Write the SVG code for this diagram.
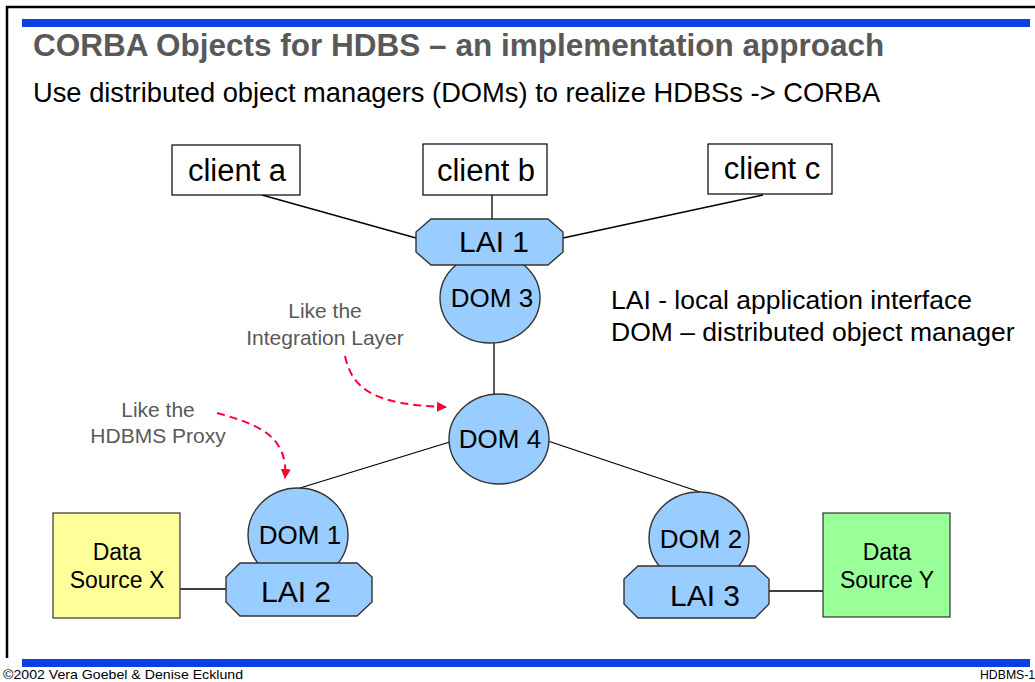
<svg xmlns="http://www.w3.org/2000/svg" width="1035" height="682" viewBox="0 0 1035 682">
  <style>
    text { font-family: "Liberation Sans", Arial, sans-serif; fill: #000; }
    .title { font-size: 31.5px; font-weight: bold; fill: #595959; }
    .sub { font-size: 27.3px; }
    .legend { font-size: 26.5px; }
    .client { font-size: 31px; text-anchor: middle; }
    .lai { font-size: 30px; text-anchor: middle; }
    .dom { font-size: 26px; text-anchor: middle; }
    .src { font-size: 23px; text-anchor: middle; }
    .note { font-size: 21px; text-anchor: middle; fill: #595959; }
    .foot { font-size: 13px; }
    .box { fill: #fff; stroke: #000; stroke-width: 1.2; }
    .blue { fill: #99CCFF; stroke: #333; stroke-width: 1.4; }
    .edge { stroke: #000; stroke-width: 1.3; fill: none; }
    .hint { stroke: #FF0033; stroke-width: 2; stroke-dasharray: 8 5; fill: none; }
    .bar { fill: #0A3FE6; }
  </style>
  <defs>
    <marker id="redArrow" viewBox="0 0 10 10" refX="9" refY="5" markerWidth="5" markerHeight="5" orient="auto" markerUnits="strokeWidth">
      <path d="M0,0 L10,5 L0,10 z" fill="#FF0033"/>
    </marker>
  </defs>

  <!-- slide frame -->
  <rect width="1035" height="682" fill="#fff"/>
  <line x1="6" y1="7" x2="1035" y2="7" stroke="#000" stroke-width="2.5"/>
  <line x1="7" y1="6" x2="7" y2="658" stroke="#000" stroke-width="2.5"/>
  <rect class="bar" x="22" y="19" width="1008" height="8"/>
  <rect class="bar" x="22" y="659" width="1008" height="8"/>

  <!-- headings -->
  <text class="title" x="33" y="56">CORBA Objects for HDBS – an implementation approach</text>
  <text class="sub" x="33" y="102">Use distributed object managers (DOMs) to realize HDBSs -&gt; CORBA</text>

  <!-- connectors -->
  <g id="connectors">
    <line class="edge" x1="262" y1="195" x2="416" y2="238"/>
    <line class="edge" x1="492" y1="195" x2="492" y2="219"/>
    <line class="edge" x1="763" y1="195" x2="563" y2="238"/>
    <line class="edge" x1="494" y1="343" x2="494" y2="398"/>
    <line class="edge" x1="453" y1="441" x2="300" y2="488"/>
    <line class="edge" x1="542" y1="439" x2="700" y2="492"/>
    <line class="edge" x1="180" y1="589" x2="226" y2="589"/>
    <line class="edge" x1="769" y1="591" x2="823" y2="591"/>
    <path class="hint" d="M345,356 C352,388 372,405 446,407" marker-end="url(#redArrow)"/>
    <path class="hint" d="M217,413 C252,423 289,433 285,478" marker-end="url(#redArrow)"/>
  </g>

  <!-- clients -->
  <g id="client-a">
    <rect class="box" x="172" y="145" width="128" height="50"/>
    <text class="client" x="237" y="181">client a</text>
  </g>
  <g id="client-b">
    <rect class="box" x="423" y="144" width="124" height="51"/>
    <text class="client" x="486" y="181">client b</text>
  </g>
  <g id="client-c">
    <rect class="box" x="708" y="144" width="124" height="50"/>
    <text class="client" x="772" y="179">client c</text>
  </g>

  <!-- DOM 3 under LAI 1 -->
  <g id="dom3">
    <ellipse class="blue" cx="490" cy="298" rx="50" ry="45"/>
    <text class="dom" x="492" y="307">DOM 3</text>
  </g>
  <g id="lai1">
    <polygon class="blue" points="431,219 548,219 563,232 563,252 548,265 431,265 416,252 416,232"/>
    <text class="lai" x="494" y="252">LAI 1</text>
  </g>

  <g id="dom4">
    <ellipse class="blue" cx="499" cy="439" rx="50" ry="45"/>
    <text class="dom" x="500" y="448">DOM 4</text>
  </g>

  <!-- left branch -->
  <g id="dom1">
    <ellipse class="blue" cx="298" cy="535" rx="50" ry="47"/>
    <text class="dom" x="300" y="544">DOM 1</text>
  </g>
  <g id="lai2">
    <polygon class="blue" points="240,563 357,563 372,577 372,602 357,616 240,616 226,602 226,577"/>
    <text class="lai" x="296" y="602">LAI 2</text>
  </g>
  <g id="source-x">
    <rect x="53" y="513" width="127" height="105" fill="#FFFF99" stroke="#333" stroke-width="1.2"/>
    <text class="src" x="117" y="560">Data</text>
    <text class="src" x="117" y="588">Source X</text>
  </g>

  <!-- right branch -->
  <g id="dom2">
    <ellipse class="blue" cx="699" cy="538" rx="50" ry="46"/>
    <text class="dom" x="701" y="548">DOM 2</text>
  </g>
  <g id="lai3">
    <polygon class="blue" points="638,566 755,566 769,579 769,604 755,618 638,618 624,604 624,579"/>
    <text class="lai" x="705" y="606">LAI 3</text>
  </g>
  <g id="source-y">
    <rect x="823" y="513" width="127" height="104" fill="#99FF99" stroke="#333" stroke-width="1.2"/>
    <text class="src" x="887" y="560">Data</text>
    <text class="src" x="887" y="588">Source Y</text>
  </g>

  <!-- legend -->
  <g id="legend">
    <text class="legend" x="611" y="309">LAI - local application interface</text>
    <text class="legend" x="611" y="341">DOM – distributed object manager</text>
  </g>

  <!-- annotations -->
  <g id="note-integration">
    <text class="note" x="325" y="318">Like the</text>
    <text class="note" x="325" y="345">Integration Layer</text>
  </g>
  <g id="note-proxy">
    <text class="note" x="158" y="417">Like the</text>
    <text class="note" x="158" y="443">HDBMS Proxy</text>
  </g>

  <!-- footer -->
  <text class="foot" x="3" y="679" textLength="240" lengthAdjust="spacingAndGlyphs">©2002 Vera Goebel &amp; Denise Ecklund</text>
  <text class="foot" x="980" y="679" textLength="62" lengthAdjust="spacingAndGlyphs">HDBMS-18</text>
</svg>
